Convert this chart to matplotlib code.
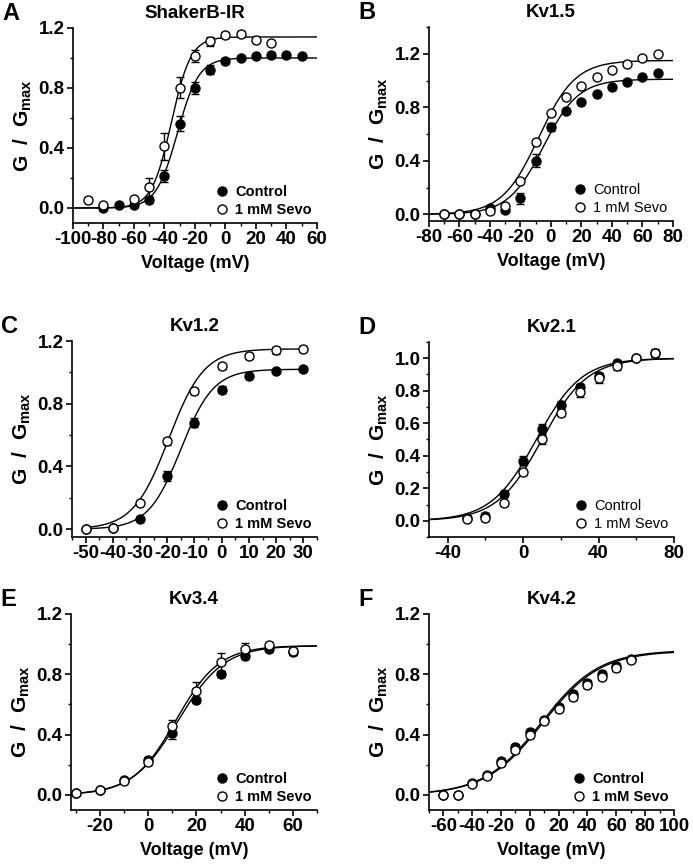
import numpy as np
import matplotlib
matplotlib.use("Agg")
import matplotlib.pyplot as plt
from matplotlib.ticker import MultipleLocator, FormatStrFormatter
from matplotlib.lines import Line2D

plt.rcParams['font.family'] = ['Liberation Sans', 'DejaVu Sans']
plt.rcParams['font.weight'] = 'bold'
plt.rcParams['axes.unicode_minus'] = False
plt.rcParams['mathtext.fontset'] = 'custom'
plt.rcParams['mathtext.rm'] = 'Liberation Sans:bold'
plt.rcParams['mathtext.bf'] = 'Liberation Sans:bold'

# Panel A - ShakerB-IR
a_v_ctrl = [-80, -70, -60, -50, -40, -30, -20, -10, 0, 10, 20, 30, 40, 50]
a_ctrl = [0.0, 0.02, 0.02, 0.05, 0.21, 0.56, 0.80, 0.92, 0.98, 1.0, 1.01, 1.02, 1.02, 1.01]
a_ctrl_err = [0.01, 0.01, 0.01, 0.01, 0.04, 0.05, 0.04, 0.03, 0.02, 0.01, 0.01, 0.01, 0.01, 0.01]
a_v_sevo = [-90, -80, -60, -50, -40, -30, -20, -10, 0, 10, 20, 30]
a_sevo = [0.05, 0.02, 0.06, 0.14, 0.41, 0.80, 1.01, 1.11, 1.15, 1.16, 1.12, 1.10]
a_sevo_err = [0.02, 0.01, 0.01, 0.06, 0.09, 0.07, 0.04, 0.03, 0.02, 0.02, 0.01, 0.01]
a_fit = [(1.0, -31.5, 7.0), (1.14, -35.5, 6.4)]

# Panel B - Kv1.5
b_v = [-70, -60, -50, -40, -30, -20, -10, 0, 10, 20, 30, 40, 50, 60, 70]
b_ctrl = [0.0, 0.0, 0.0, 0.045, 0.035, 0.12, 0.40, 0.65, 0.77, 0.84, 0.90, 0.95, 0.99, 1.03, 1.06]
b_ctrl_err = [0.01, 0.01, 0.01, 0.01, 0.01, 0.04, 0.05, 0.03, 0.01, 0.01, 0.01, 0.01, 0.01, 0.01, 0.01]
b_sevo = [0.0, 0.0, 0.0, 0.025, 0.065, 0.25, 0.54, 0.755, 0.88, 0.96, 1.03, 1.08, 1.125, 1.17, 1.20]
b_sevo_err = [0.01, 0.01, 0.01, 0.01, 0.01, 0.01, 0.02, 0.01, 0.01, 0.01, 0.01, 0.01, 0.01, 0.01, 0.01]
b_fit = [(1.01, -5, 11.5), (1.15, -8, 12.0)]

# Panel C - Kv1.2
c_v = [-50, -40, -30, -20, -10, 0, 10, 20, 30]
c_ctrl = [0.0, 0.005, 0.065, 0.34, 0.68, 0.89, 0.98, 1.01, 1.02]
c_ctrl_err = [0.01, 0.01, 0.01, 0.03, 0.03, 0.02, 0.01, 0.01, 0.01]
c_sevo = [0.0, 0.01, 0.17, 0.56, 0.88, 1.04, 1.105, 1.14, 1.15]
c_sevo_err = [0.01, 0.01, 0.01, 0.02, 0.02, 0.02, 0.02, 0.02, 0.02]
c_fit = [(1.02, -15, 6.0), (1.15, -19.5, 6.5)]

# Panel D - Kv2.1
d_v = [-30, -20, -10, 0, 10, 20, 30, 40, 50, 60, 70]
d_ctrl = [0.015, 0.03, 0.165, 0.37, 0.565, 0.715, 0.82, 0.89, 0.97, 1.0, 1.035]
d_ctrl_err = [0.01, 0.02, 0.02, 0.03, 0.03, 0.02, 0.02, 0.02, 0.01, 0.01, 0.02]
d_sevo = [0.01, 0.02, 0.11, 0.30, 0.50, 0.665, 0.79, 0.88, 0.95, 1.0, 1.03]
d_sevo_err = [0.01, 0.02, 0.02, 0.02, 0.03, 0.02, 0.03, 0.03, 0.02, 0.01, 0.02]
d_fit = [(1.0, 7, 12.0), (1.0, 10, 12.0)]

# Panel E - Kv3.4
e_v = [-30, -20, -10, 0, 10, 20, 30, 40, 50, 60]
e_ctrl = [0.01, 0.03, 0.10, 0.23, 0.41, 0.63, 0.80, 0.92, 0.965, 0.945]
e_ctrl_err = [0.01, 0.01, 0.01, 0.02, 0.04, 0.02, 0.02, 0.02, 0.02, 0.02]
e_sevo = [0.01, 0.03, 0.09, 0.22, 0.46, 0.69, 0.88, 0.965, 0.995, 0.955]
e_sevo_err = [0.01, 0.01, 0.01, 0.02, 0.04, 0.06, 0.06, 0.04, 0.02, 0.02]
e_fit = [(0.99, 12.5, 9.5), (0.99, 11.5, 9.0)]

# Panel F - Kv4.2
f_v = [-60, -50, -40, -30, -20, -10, 0, 10, 20, 30, 40, 50, 60, 70]
f_ctrl = [0.0, 0.0, 0.08, 0.13, 0.225, 0.32, 0.42, 0.50, 0.585, 0.67, 0.745, 0.80, 0.855, 0.90]
f_ctrl_err = [0.01, 0.01, 0.01, 0.01, 0.01, 0.02, 0.02, 0.02, 0.02, 0.02, 0.02, 0.02, 0.02, 0.01]
f_sevo = [0.0, 0.0, 0.075, 0.125, 0.21, 0.30, 0.40, 0.49, 0.57, 0.65, 0.73, 0.785, 0.84, 0.895]
f_sevo_err = [0.01, 0.01, 0.01, 0.01, 0.02, 0.02, 0.02, 0.02, 0.02, 0.02, 0.02, 0.02, 0.02, 0.01]
f_fit = [(0.96, 8, 20.0), (0.955, 9, 20.0)]


def boltzmann(v, gmax, vhalf, k):
    return gmax / (1.0 + np.exp((vhalf - v) / k))


fig = plt.figure(figsize=(6.93, 8.66), dpi=100)

panels = [
    dict(letter='A', title='ShakerB-IR', rect=[0.1053, 0.7425, 0.352, 0.2252],
         vc=a_v_ctrl, c=a_ctrl, ce=a_ctrl_err, vs=a_v_sevo, s=a_sevo, se=a_sevo_err, fit=a_fit,
         xlim=(-100, 60), ylim=(-0.1, 1.2), xmaj=20, xmin=10, ymaj=0.4, ymin=0.2,
         frange=(-100, 60), xlabel=True, bold_leg=True),
    dict(letter='B', title='Kv1.5', rect=[0.619, 0.7448, 0.352, 0.224],
         vc=b_v, c=b_ctrl, ce=b_ctrl_err, vs=b_v, s=b_sevo, se=b_sevo_err, fit=b_fit,
         xlim=(-80, 80), ylim=(-0.05, 1.4), xmaj=20, xmin=10, ymaj=0.4, ymin=0.2,
         frange=(-80, 80), xlabel=True, bold_leg=False),
    dict(letter='C', title='Kv1.2', rect=[0.1039, 0.3799, 0.3535, 0.2263],
         vc=c_v, c=c_ctrl, ce=c_ctrl_err, vs=c_v, s=c_sevo, se=c_sevo_err, fit=c_fit,
         xlim=(-55, 35), ylim=(-0.05, 1.2), xmaj=10, xmin=5, ymaj=0.4, ymin=0.2,
         frange=(-50, 30), xlabel=False, bold_leg=True),
    dict(letter='D', title='Kv2.1', rect=[0.619, 0.3799, 0.3535, 0.2252],
         vc=d_v, c=d_ctrl, ce=d_ctrl_err, vs=d_v, s=d_sevo, se=d_sevo_err, fit=d_fit,
         xlim=(-50, 80), ylim=(-0.1, 1.1), xmaj=40, xmin=20, ymaj=0.2, ymin=0.1,
         frange=(-50, 80), xlabel=False, bold_leg=False),
    dict(letter='E', title='Kv3.4', rect=[0.1025, 0.0647, 0.355, 0.2263],
         vc=e_v, c=e_ctrl, ce=e_ctrl_err, vs=e_v, s=e_sevo, se=e_sevo_err, fit=e_fit,
         xlim=(-32, 70), ylim=(-0.1, 1.2), xmaj=20, xmin=10, ymaj=0.4, ymin=0.2,
         frange=(-30, 70), xlabel=True, bold_leg=True),
    dict(letter='F', title='Kv4.2', rect=[0.619, 0.0647, 0.3535, 0.2263],
         vc=f_v, c=f_ctrl, ce=f_ctrl_err, vs=f_v, s=f_sevo, se=f_sevo_err, fit=f_fit,
         xlim=(-70, 100), ylim=(-0.1, 1.2), xmaj=20, xmin=10, ymaj=0.4, ymin=0.2,
         frange=(-70, 100), xlabel=True, bold_leg=True),
]

for p in panels:
    ax = fig.add_axes(p['rect'])
    vv = np.linspace(p['frange'][0], p['frange'][1], 400)
    for gmax, vhalf, k in p['fit']:
        ax.plot(vv, boltzmann(vv, gmax, vhalf, k), color='black', lw=1.0, zorder=2)
    ax.errorbar(p['vc'], p['c'], yerr=p['ce'], fmt='o', color='black', mfc='black', mec='black',
                ms=6.5, mew=1.0, elinewidth=1.0, capsize=3, capthick=1.0, zorder=3)
    ax.errorbar(p['vs'], p['s'], yerr=p['se'], fmt='o', color='black', mfc='white', mec='black',
                ms=6.5, mew=1.0, elinewidth=1.0, capsize=3, capthick=1.0, zorder=4)

    ax.set_xlim(*p['xlim'])
    ax.set_ylim(*p['ylim'])
    ax.xaxis.set_major_locator(MultipleLocator(p['xmaj']))
    ax.xaxis.set_minor_locator(MultipleLocator(p['xmin']))
    ax.yaxis.set_major_locator(MultipleLocator(p['ymaj']))
    ax.yaxis.set_minor_locator(MultipleLocator(p['ymin']))
    ax.yaxis.set_major_formatter(FormatStrFormatter('%.1f'))
    ax.spines['top'].set_visible(False)
    ax.spines['right'].set_visible(False)
    ax.spines['left'].set_linewidth(1.2)
    ax.spines['bottom'].set_linewidth(1.2)
    ax.tick_params(which='major', direction='out', length=4, width=1.2, labelsize=13.5, pad=2)
    ax.tick_params(which='minor', direction='out', length=2.5, width=1.0)
    for lab in ax.get_xticklabels() + ax.get_yticklabels():
        lab.set_fontweight('bold')

    ax.set_ylabel(r'G  /  G$_{\mathbf{max}}$', fontsize=15, fontweight='bold', labelpad=3)
    if p['xlabel']:
        ax.set_xlabel('Voltage (mV)', fontsize=13, fontweight='bold', labelpad=5)
    ax.set_title(p['title'], fontsize=13.5, fontweight='bold', pad=7)

    handles = [
        Line2D([], [], ls='none', marker='o', ms=6.5, mfc='black', mec='black'),
        Line2D([], [], ls='none', marker='o', ms=6.5, mfc='white', mec='black'),
    ]
    w = 'bold' if p['bold_leg'] else 'normal'
    ax.legend(handles, ['Control', '1 mM Sevo'], loc='lower right', bbox_to_anchor=(1.02, -0.02),
              frameon=False, prop={'size': 10.5, 'weight': w}, handlelength=1.0,
              handletextpad=0.4, labelspacing=0.25, borderpad=0.2)

    bb = ax.get_position()
    fig.text(bb.x0 - 0.102, bb.y1 + 0.03, p['letter'], fontsize=17, fontweight='bold',
             ha='left', va='top')

fig.savefig('out.png', dpi=100)
